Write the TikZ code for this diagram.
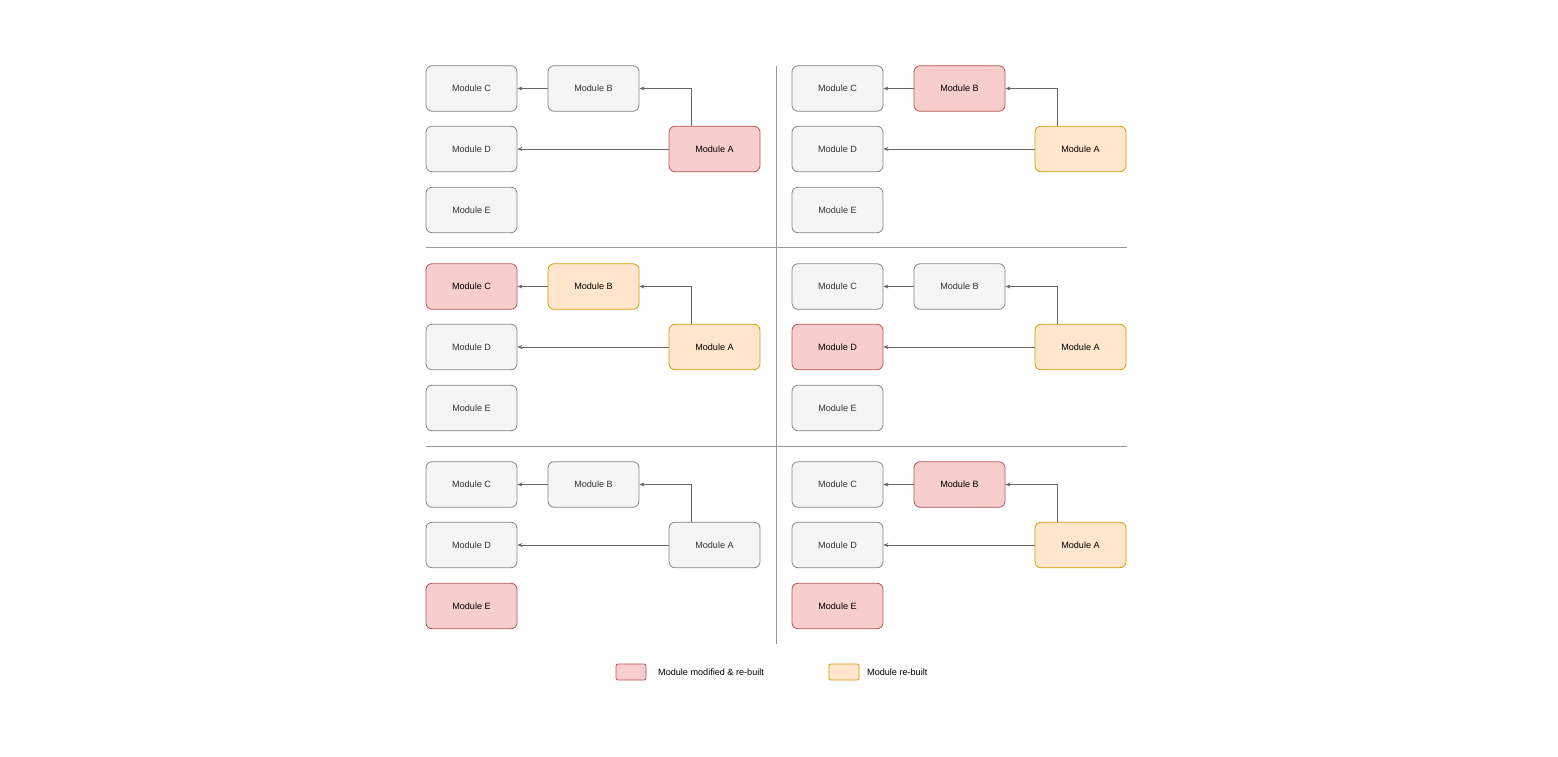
\documentclass[tikz,border=0pt]{standalone}
\usepackage{fontspec}
\setmainfont{Liberation Sans}
\usetikzlibrary{arrows.meta}
\definecolor{gfill}{HTML}{F5F5F5}
\definecolor{gline}{HTML}{666666}
\definecolor{gtext}{HTML}{333333}
\definecolor{rfill}{HTML}{F8CECC}
\definecolor{rline}{HTML}{B85450}
\definecolor{ofill}{HTML}{FFE6CC}
\definecolor{oline}{HTML}{D79B00}
\tikzset{
  modbox/.style={rounded corners=6pt, minimum width=91pt, minimum height=45.5pt, inner sep=0pt, font=\fontsize{9.1}{11}\selectfont, line width=0.8pt},
  gray/.style={modbox, fill=gfill, draw=gline!80, text=gtext},
  red/.style={modbox, fill=rfill, draw=rline, text=black},
  orange/.style={modbox, fill=ofill, draw=oline, text=black},
  conn/.style={draw=gline, line width=0.7pt, -{Stealth[length=5pt,width=4pt]}},
  sep/.style={draw=gray!80, line width=0.7pt},
  legbox/.style={rounded corners=2pt, minimum width=30pt, minimum height=16pt, inner sep=0pt, line width=0.8pt},
  legtext/.style={font=\fontsize{9.1}{11}\selectfont, anchor=west, inner sep=0pt}
}
\begin{document}
\begin{tikzpicture}[x=1pt,y=-1pt]
\useasboundingbox (0,0) rectangle (1558,757);
\foreach \p/\dx/\dy/\cc/\cb/\ca/\cd/\ce in {
  1/0/0/gray/gray/red/gray/gray,
  2/366/0/gray/red/orange/gray/gray,
  3/0/198/red/orange/orange/gray/gray,
  4/366/198/gray/gray/orange/red/gray,
  5/0/396/gray/gray/gray/gray/red,
  6/366/396/gray/red/orange/gray/red}{
  \begin{scope}[shift={(\dx,\dy)}]
    \node[\cc] (C\p) at (471.5,88.5) {Module C};
    \node[\cb] (B\p) at (593.5,88.5) {Module B};
    \node[\ca] (A\p) at (714.5,149) {Module A};
    \node[\cd] (D\p) at (471.5,149) {Module D};
    \node[\ce] (E\p) at (471.5,210) {Module E};
    \draw[conn] (B\p.west) -- (C\p.east);
    \draw[conn] (A\p.west) -- (D\p.east);
    \draw[conn] ([xshift=-22.75pt]A\p.north) |- (B\p.east);
  \end{scope}
}
\coordinate (h1l) at (426,247);
\coordinate (h1r) at (1127,247);
\coordinate (h2l) at (426,446);
\coordinate (h2r) at (1127,446);
\coordinate (vt) at (776,66);
\coordinate (vb) at (776,644);
\draw[sep] (h1l) -- (h1r);
\draw[sep] (h2l) -- (h2r);
\draw[sep] (vt) -- (vb);
\node[legbox, fill=rfill, draw=rline] (L1) at (631,672) {};
\node[legtext] (T1) at (658,672) {Module modified \& re-built};
\node[legbox, fill=ofill, draw=oline] (L2) at (844,672) {};
\node[legtext] (T2) at (867,672) {Module re-built};
\end{tikzpicture}
\end{document}
